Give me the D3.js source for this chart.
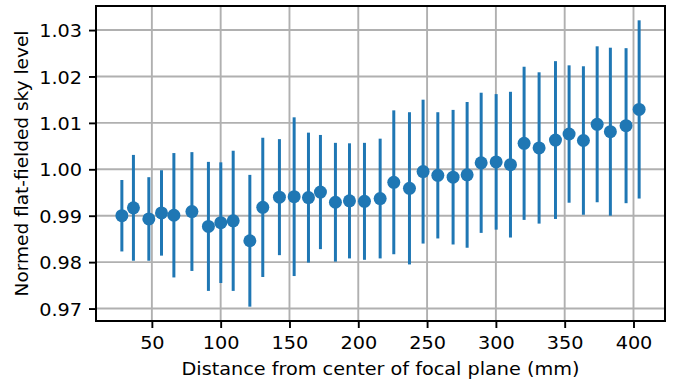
<!DOCTYPE html>
<html>
<head>
<meta charset="utf-8">
<script src="https://cdn.jsdelivr.net/npm/d3@7"></script>
<style>
  html, body { margin: 0; padding: 0; background: #fff; }
  svg { display: block; }
  text { font-family: "DejaVu Sans", sans-serif; fill: #000; }
</style>
</head>
<body>
<svg id="chart" width="685" height="385"></svg>
<script>
// Radial distance of each ring (mm)
const distance = [28.2, 36.6, 47.8, 57.0, 66.0, 79.1, 91.1, 100.1, 109.1, 121.2,
  130.6, 142.7, 153.4, 163.8, 172.5, 183.4, 193.6, 204.5, 215.9, 225.8,
  237.2, 247.1, 257.8, 268.9, 279.1, 289.3, 300.2, 310.6, 320.5, 331.4,
  343.3, 353.2, 363.6, 373.6, 383.2, 394.6, 404.1];

// Mean normed flat-fielded sky level per ring
const skyLevel = [0.9900, 0.9917, 0.9893, 0.9906, 0.9901, 0.9909, 0.9877, 0.9885, 0.9889, 0.9846,
  0.9918, 0.9940, 0.9941, 0.9939, 0.9951, 0.9929, 0.9932, 0.9931, 0.9937, 0.9972,
  0.9959, 0.9995, 0.9987, 0.9983, 0.9988, 1.0014, 1.0016, 1.0010, 1.0056, 1.0046,
  1.0063, 1.0076, 1.0062, 1.0097, 1.0081, 1.0094, 1.0129];

// One-sigma scatter per ring
const skyError = [0.0077, 0.0114, 0.0090, 0.0092, 0.0134, 0.0128, 0.0139, 0.0130, 0.0151, 0.0142,
  0.0150, 0.0125, 0.0171, 0.0140, 0.0123, 0.0128, 0.0124, 0.0126, 0.0129, 0.0155,
  0.0164, 0.0155, 0.0136, 0.0145, 0.0157, 0.0151, 0.0146, 0.0157, 0.0165, 0.0163,
  0.0170, 0.0148, 0.0160, 0.0168, 0.0181, 0.0167, 0.0192];

const xTicks = [50, 100, 150, 200, 250, 300, 350, 400];
const yTicks = [0.97, 0.98, 0.99, 1.00, 1.01, 1.02, 1.03];

const points = distance.map((d, i) => ({ x: d, y: skyLevel[i], e: skyError[i] }));

const margin = { left: 96, right: 20, top: 6, bottom: 64 };
const width = 685, height = 385;
const plotW = width - margin.left - margin.right;
const plotH = height - margin.top - margin.bottom;
const fontSize = 18.5;
const widen = 1.04; // slight horizontal stretch of the horizontal labels

// Axis limits padded by 5% of the data span, including error bars
const xMin = d3.min(distance), xMax = d3.max(distance);
const xPad = (xMax - xMin) * 0.05;
const yLo = d3.min(points, p => p.y - p.e), yHi = d3.max(points, p => p.y + p.e);
const yPad = (yHi - yLo) * 0.05;

const x = d3.scaleLinear().domain([xMin - xPad, xMax + xPad]).range([0, plotW]);
const y = d3.scaleLinear().domain([yLo - yPad, yHi + yPad]).range([plotH, 0]);

const svg = d3.select("#chart");
const g = svg.append("g").attr("transform", `translate(${margin.left},${margin.top})`);

// Grid
g.append("g").selectAll("line").data(xTicks).join("line")
  .attr("x1", d => x(d)).attr("x2", d => x(d))
  .attr("y1", 0).attr("y2", plotH)
  .attr("stroke", "#b0b0b0").attr("stroke-width", 1.9);
g.append("g").selectAll("line").data(yTicks).join("line")
  .attr("x1", 0).attr("x2", plotW)
  .attr("y1", d => y(d)).attr("y2", d => y(d))
  .attr("stroke", "#b0b0b0").attr("stroke-width", 1.9);

// Error bars
g.append("g").selectAll("line").data(points).join("line")
  .attr("x1", p => x(p.x)).attr("x2", p => x(p.x))
  .attr("y1", p => y(p.y - p.e)).attr("y2", p => y(p.y + p.e))
  .attr("stroke", "#1f77b4").attr("stroke-width", 3);

// Markers
g.append("g").selectAll("circle").data(points).join("circle")
  .attr("cx", p => x(p.x)).attr("cy", p => y(p.y))
  .attr("r", 6.5).attr("fill", "#1f77b4");

// Axes
const xAxis = g.append("g").attr("transform", `translate(0,${plotH})`)
  .call(d3.axisBottom(x).tickValues(xTicks).tickSize(7).tickFormat(d3.format("d")));
const yAxis = g.append("g")
  .call(d3.axisLeft(y).tickValues(yTicks).tickSize(7).tickPadding(7).tickFormat(d3.format(".2f")));

[xAxis, yAxis].forEach(a => {
  a.select(".domain").remove();
  a.selectAll(".tick line").attr("stroke", "#000").attr("stroke-width", 1.9);
  a.selectAll(".tick text").attr("font-size", fontSize).attr("font-family", "DejaVu Sans").attr("fill", "#000");
});
xAxis.selectAll(".tick text")
  .attr("x", null).attr("y", null).attr("dy", 0)
  .attr("transform", `translate(0,28.3) scale(${widen},1)`);
yAxis.selectAll(".tick text")
  .attr("x", null).attr("dy", "0.36em")
  .attr("transform", `translate(-14,0) scale(${widen},1)`);

// Frame
g.append("rect").attr("x", 0).attr("y", 0).attr("width", plotW).attr("height", plotH)
  .attr("fill", "none").attr("stroke", "#000").attr("stroke-width", 2);

// Axis titles
svg.append("text")
  .attr("transform", `translate(${margin.left + plotW / 2},374.5) scale(${widen},1)`)
  .attr("text-anchor", "middle").attr("font-size", fontSize)
  .text("Distance from center of focal plane (mm)");
svg.append("text")
  .attr("transform", `translate(28.3,${margin.top + plotH / 2}) rotate(-90)`)
  .attr("text-anchor", "middle").attr("font-size", fontSize)
  .text("Normed flat-fielded sky level");
</script>
</body>
</html>
